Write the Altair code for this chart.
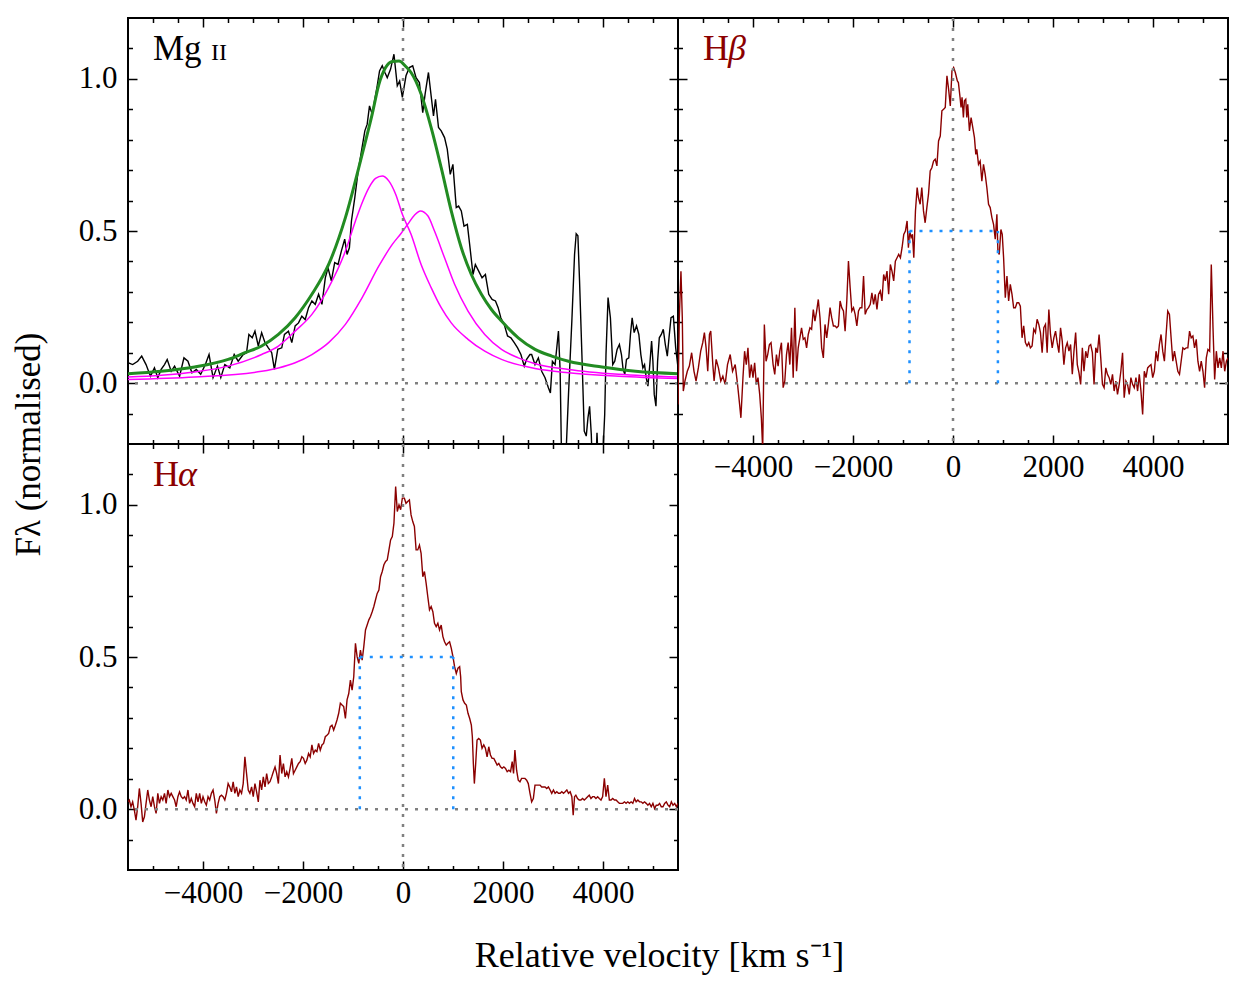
import altair as alt
import pandas as pd

FONT = "Liberation Serif"

# ---------------- Mg II (observed spectrum) ----------------
MG_V = [-5500, -5407, -5306, -5226, -5139, -5051, -4971, -4904, -4837, -4770,
        -4716, -4636, -4569, -4468, -4381, -4301, -4221, -4134, -4046, -3953,
        -3879, -3799, -3711, -3644, -3564, -3464, -3376, -3296, -3196, -3129,
        -3082, -3015, -2961, -2894, -2827, -2760, -2693, -2626, -2572, -2505,
        -2425, -2371, -2291, -2224, -2157, -2090, -2023, -1956, -1889, -1822,
        -1755, -1688, -1621, -1554, -1500, -1433, -1366, -1299, -1233, -1166,
        -1119, -1072, -1031, -964, -897, -830, -763, -716, -670, -616,
        -563, -516, -469, -415, -362, -315, -248, -181, -114, -67,
        -13,
        60, 127, 194, 261, 328, 395, 442, 509, 563, 610,
        650, 710, 764, 831, 885, 945, 998, 1065, 1112, 1166,
        1220, 1287, 1333, 1400, 1447, 1514, 1581, 1648, 1715, 1782,
        1849, 1903, 1956, 2024, 2091, 2158, 2225, 2292, 2358, 2425,
        2472, 2539,
        2573, 2640, 2707, 2774, 2841, 2908, 2948, 2988, 3042, 3109,
        3143, 3176, 3210, 3243, 3310, 3377, 3431, 3464, 3498, 3531,
        3578, 3625, 3665, 3699, 3732, 3766, 3792, 3840, 3880, 3913,
        3980, 4034, 4060, 4101, 4148, 4195, 4235, 4282, 4328, 4369,
        4402, 4436, 4469, 4516, 4549, 4583, 4623, 4670, 4717, 4757,
        4797, 4831, 4864, 4898, 4931, 4972, 4998, 5025, 5059, 5092,
        5126, 5166, 5206, 5246, 5286, 5320, 5360, 5407, 5454, 5501]
MG_F = [0.067, 0.061, 0.072, 0.089, 0.061, 0.023, 0.050, 0.018, 0.045, 0.061,
        0.078, 0.039, 0.056, 0.023, 0.083, 0.072, 0.034, 0.045, 0.029, 0.061,
        0.094, 0.018, 0.056, 0.018, 0.061, 0.050, 0.094, 0.072, 0.094, 0.100,
        0.160, 0.149, 0.171, 0.122, 0.166, 0.133, 0.116, 0.100, 0.045, 0.111,
        0.116, 0.160, 0.171, 0.133, 0.188, 0.198, 0.220, 0.209, 0.248, 0.270,
        0.259, 0.292, 0.259, 0.346, 0.379, 0.336, 0.396, 0.390, 0.434, 0.473,
        0.423, 0.445, 0.533, 0.610, 0.697, 0.763, 0.829, 0.851, 0.911, 0.884,
        0.933, 0.977, 1.026, 1.043, 1.021, 1.004, 1.032, 1.081, 0.977, 0.993,
        0.939,
        1.010, 1.037, 1.043, 1.004, 0.988, 0.889, 0.950, 1.021, 0.944, 0.878,
        0.933, 0.840, 0.829, 0.807, 0.769, 0.686, 0.719, 0.577, 0.582, 0.566,
        0.516, 0.522, 0.456, 0.357, 0.390, 0.368, 0.346, 0.357, 0.292, 0.275,
        0.270, 0.248, 0.215, 0.193, 0.155, 0.149, 0.133, 0.116, 0.094, 0.056,
        0.078, 0.094,
        0.094, 0.061, 0.083, 0.039, 0.018, -0.015, -0.032, 0.072, 0.061, 0.171,
        0.039, -0.30, -0.35, -0.30, -0.037, 0.204, 0.423, 0.491, 0.484, 0.336,
        0.094, -0.158, -0.174, -0.114, -0.076, -0.169, -0.30, -0.35, -0.163, -0.30,
        -0.30, -0.103, 0.094, 0.281, 0.215, 0.061, 0.072, 0.111, 0.127, 0.094,
        0.045, 0.029, 0.078, 0.083, 0.160, 0.215, 0.166, 0.188, 0.160, 0.094,
        0.050, 0.061, 0.018, -0.010, 0.050, 0.138, 0.072, -0.037, -0.076, 0.072,
        0.149, 0.160, 0.177, 0.127, 0.089, 0.149, 0.215, 0.220, 0.116, 0.050]

# Mg II total fit (green)
MG_FIT_V = [-5500, -4837, -4167, -3497, -3162, -2827, -2492, -2157, -1822, -1487,
            -1152, -817, -616, -482, -348, -214, -80, 60, 161, 362,
            563, 764, 965, 1166, 1367, 1568, 1769, 1970, 2305, 2640,
            2975, 3310, 3980, 4650, 5500]
MG_FIT_F = [0.031, 0.039, 0.053, 0.078, 0.100, 0.122, 0.160, 0.215, 0.292, 0.390,
            0.544, 0.752, 0.884, 0.982, 1.037, 1.057, 1.059, 1.040, 1.021, 0.950,
            0.840, 0.708, 0.566, 0.445, 0.357, 0.292, 0.242, 0.204, 0.149, 0.111,
            0.089, 0.072, 0.053, 0.039, 0.031]

# Mg II components (magenta)
MG_C1_V = [-5500, -4837, -4167, -3497, -2827, -2492, -2157, -1822, -1487, -1152,
           -951, -817, -683, -549, -415, -281, -147, -13, 161, 362,
           563, 764, 965, 1300, 1635, 1970, 2640, 3310, 4315, 5500]
MG_C1_F = [0.020, 0.026, 0.037, 0.056, 0.094, 0.122, 0.171, 0.226, 0.314, 0.434,
           0.533, 0.593, 0.642, 0.673, 0.681, 0.664, 0.621, 0.555, 0.489, 0.390,
           0.314, 0.248, 0.198, 0.144, 0.105, 0.078, 0.048, 0.034, 0.023, 0.015]
MG_C2_V = [-5500, -4167, -2827, -2492, -2157, -1822, -1487, -1152, -817, -482,
           -214, -40, 94, 228, 348, 496, 630, 831, 1032, 1300,
           1635, 1970, 2305, 2640, 3310, 4315, 5500]
MG_C2_F = [0.012, 0.020, 0.039, 0.050, 0.067, 0.094, 0.133, 0.193, 0.281, 0.385,
           0.456, 0.492, 0.522, 0.552, 0.566, 0.550, 0.500, 0.412, 0.325, 0.237,
           0.160, 0.111, 0.083, 0.064, 0.045, 0.029, 0.020]

# ---------------- H beta ----------------
HB_V = [-5500, -5474, -5441, -5414, -5394, -5361, -5314, -5273, -5227, -5180,
        -5139, -5093, -5046, -5005, -4972, -4938, -4905, -4871, -4845, -4804,
        -4778, -4737, -4691, -4644, -4603, -4557, -4510, -4456, -4409, -4356,
        -4309, -4268, -4242, -4201, -4168, -4134, -4101, -4067, -4034, -4000,
        -3967, -3933, -3900, -3866, -3833, -3806, -3773, -3739, -3706, -3672,
        -3639, -3598, -3565, -3531, -3498, -3464, -3431, -3397, -3364, -3330,
        -3297, -3263, -3230, -3196, -3163, -3129, -3096, -3062, -3029, -2995,
        -2962, -2928, -2895, -2861, -2828, -2794, -2761, -2727, -2694, -2660,
        -2627, -2593, -2560, -2526, -2493, -2459, -2426, -2392, -2359, -2325,
        -2292, -2258, -2225, -2191, -2158, -2124, -2091, -2057, -2024, -1990,
        -1957, -1923, -1890, -1856, -1823, -1789, -1756, -1722, -1689, -1655,
        -1622, -1588, -1555, -1521, -1488, -1454, -1421, -1387, -1354, -1320,
        -1287, -1253, -1220, -1186, -1153, -1119, -1086, -1052, -1019, -985,
        -952, -918, -892, -865, -838, -811, -784, -751, -717, -691,
        -657, -624, -590, -557, -523, -490, -456, -423, -389, -356,
        -322, -289, -255, -222, -188, -155, -121, -88, -54, -21,
        13, 46, 87,
        108, 141, 161, 181, 208, 228, 255, 275, 295, 329,
        362, 396, 429, 456, 476, 510, 543, 577, 610, 644,
        677, 711, 744, 778, 811, 845, 878, 898, 925, 958,
        985, 1012, 1046, 1079, 1113, 1146, 1180, 1213, 1247, 1280,
        1314, 1347, 1381, 1414, 1448, 1481, 1515, 1548, 1582, 1615,
        1649, 1682, 1716, 1749, 1783, 1816, 1850, 1883, 1917, 1950,
        1984, 2017, 2051, 2084, 2118, 2151, 2185, 2218, 2252, 2285,
        2319, 2352, 2386, 2419, 2453, 2486, 2520, 2553, 2587, 2620,
        2654, 2687, 2721, 2754, 2788, 2821, 2855, 2888, 2922, 2955,
        2989, 3022, 3056, 3089, 3123, 3156, 3190, 3223, 3257, 3290,
        3324, 3357, 3391, 3424, 3458, 3491, 3525, 3558, 3592, 3625,
        3659, 3692, 3726, 3759, 3793, 3826, 3860, 3893, 3927, 3960,
        3994, 4027, 4061, 4094, 4128, 4161, 4195, 4228, 4262, 4295,
        4329, 4362, 4396, 4429, 4463, 4496, 4530, 4563, 4597, 4630,
        4664, 4697, 4731, 4764, 4798, 4831, 4865, 4898, 4932, 4965,
        4999, 5032, 5066, 5099, 5133, 5166, 5200, 5233, 5267, 5300,
        5334, 5367, 5401, 5434, 5468, 5500]
HB_F = [-0.070, 0.215, 0.368, 0.215, -0.026, 0.007, 0.039, 0.056, 0.100, 0.039,
        0.007, 0.050, 0.105, 0.133, 0.166, 0.116, 0.039, 0.160, 0.171, 0.061,
        0.007, 0.078, 0.050, 0.007, 0.023, -0.004, 0.061, 0.094, 0.039, 0.061,
        -0.004, -0.070, -0.114, 0.018, 0.105, 0.061, 0.116, 0.018, 0.061, 0.018,
        0.067, -0.004, 0.018, -0.037, -0.114, -0.220, 0.193, 0.072, 0.094, 0.127,
        0.133, 0.061, 0.029, 0.094, 0.056, 0.105, 0.133, -0.015, 0.007, 0.094,
        0.133, 0.061, 0.182, 0.018, 0.248, 0.039, 0.116, 0.149, 0.182, 0.144,
        0.149, 0.116, 0.160, 0.182, 0.177, 0.242, 0.204, 0.237, 0.275, 0.215,
        0.116, 0.083, 0.193, 0.149, 0.193, 0.248, 0.215, 0.188, 0.188, 0.182,
        0.188, 0.270, 0.248, 0.237, 0.171, 0.270, 0.401, 0.314, 0.237, 0.248,
        0.226, 0.188, 0.237, 0.248, 0.248, 0.352, 0.226, 0.242, 0.248, 0.259,
        0.297, 0.259, 0.292, 0.242, 0.292, 0.303, 0.270, 0.357, 0.336, 0.368,
        0.292, 0.390, 0.368, 0.336, 0.401, 0.412, 0.423, 0.412, 0.445, 0.489,
        0.500, 0.533, 0.445, 0.500, 0.478, 0.489, 0.412, 0.566, 0.643, 0.610,
        0.588, 0.643, 0.566, 0.527, 0.577, 0.621, 0.697, 0.708, 0.730, 0.736,
        0.714, 0.796, 0.812, 0.895, 0.900, 0.906, 1.010, 0.966, 0.911, 1.026,
        1.037, 1.021, 0.993,
        0.988, 0.939, 0.906, 0.939, 0.873, 0.928, 0.933, 0.873, 0.916, 0.829,
        0.873, 0.840, 0.807, 0.752, 0.768, 0.719, 0.730, 0.664, 0.719, 0.686,
        0.643, 0.588, 0.577, 0.544, 0.522, 0.473, 0.555, 0.434, 0.423, 0.505,
        0.489, 0.412, 0.281, 0.352, 0.270, 0.325, 0.292, 0.248, 0.248, 0.264,
        0.264, 0.253, 0.149, 0.188, 0.133, 0.122, 0.133, 0.116, 0.122, 0.177,
        0.166, 0.210, 0.193, 0.166, 0.100, 0.182, 0.193, 0.100, 0.242, 0.160,
        0.116, 0.149, 0.171, 0.133, 0.100, 0.182, 0.138, 0.061, 0.116, 0.133,
        0.105, 0.127, 0.029, 0.105, 0.166, 0.061, 0.034, -0.004, 0.116, 0.039,
        0.105, 0.083, 0.122, 0.127, 0.100, -0.004, 0.116, 0.100, 0.160, 0.083,
        -0.004, -0.015, 0.050, 0.029, 0.018, -0.004, 0.029, -0.026, 0.007, -0.037,
        -0.004, 0.039, 0.100, -0.048, 0.007, -0.004, -0.037, 0.018, -0.004, -0.015,
        0.018, -0.026, 0.029, -0.026, -0.103, 0.039, 0.018, 0.050, 0.056, 0.061,
        0.018, 0.039, 0.105, 0.072, 0.127, 0.160, 0.105, 0.072, 0.160, 0.237,
        0.226, 0.149, 0.072, 0.105, 0.072, 0.039, 0.029, 0.072, 0.116, 0.111,
        0.116, 0.116, 0.171, 0.149, 0.155, 0.116, 0.144, 0.072, 0.039, 0.072,
        0.039, -0.015, 0.083, 0.111, 0.105, 0.390, 0.182, 0.012, 0.105, 0.050,
        0.083, 0.050, 0.105, 0.039, 0.072, 0.083]

# ---------------- H alpha ----------------
HA_V = [-5500, -5474, -5440, -5407, -5373, -5340, -5306, -5273, -5239, -5206,
        -5172, -5139, -5105, -5072, -5038, -5005, -4971, -4938, -4904, -4871,
        -4837, -4804, -4770, -4737, -4703, -4670, -4636, -4603, -4569, -4536,
        -4502, -4469, -4435, -4402, -4368, -4335, -4301, -4268, -4234, -4201,
        -4167, -4134, -4100, -4067, -4033, -4000, -3966, -3933, -3899, -3866,
        -3832, -3799, -3765, -3732, -3698, -3665, -3631, -3598, -3564, -3531,
        -3497, -3464, -3430, -3397, -3363, -3330, -3296, -3263, -3229, -3196,
        -3162, -3129, -3095, -3062, -3028, -2995, -2961, -2928, -2894, -2861,
        -2827, -2794, -2760, -2727, -2693, -2660, -2626, -2593, -2559, -2526,
        -2492, -2459, -2425, -2392, -2358, -2325, -2291, -2258, -2224, -2191,
        -2157, -2124, -2090, -2057, -2023, -1990, -1956, -1923, -1889, -1856,
        -1822, -1789, -1755, -1722, -1688, -1655, -1621, -1588, -1554, -1521,
        -1487, -1454, -1420, -1387, -1353, -1320, -1286, -1253, -1219, -1186,
        -1152, -1119, -1085, -1052, -1018, -985, -951, -918, -884, -851,
        -817, -784, -750, -717, -683, -650, -616, -583, -549, -516,
        -482, -449, -415, -382, -348, -315, -281, -248, -214, -181,
        -147, -114, -80, -47, -13,
        27, 60, 94, 128, 161, 195, 228, 262, 295, 329,
        362, 396, 429, 463, 496, 530, 563, 597, 630, 664,
        697, 731, 764, 798, 831, 865, 898, 932, 965, 999,
        1032, 1066, 1099, 1133, 1153, 1166, 1200, 1233, 1267, 1300,
        1334, 1367, 1387, 1407, 1427, 1454, 1481, 1514, 1548, 1581,
        1615, 1648, 1682, 1715, 1749, 1782, 1816, 1849, 1883, 1916,
        1950, 1983, 2017, 2050, 2084, 2117, 2151, 2184, 2211, 2238,
        2272, 2305, 2339, 2372, 2406, 2439, 2473, 2506, 2540, 2573,
        2607, 2640, 2674, 2707, 2741, 2774, 2808, 2841, 2875, 2908,
        2942, 2975, 3009, 3042, 3076, 3109, 3143, 3176, 3210, 3243,
        3277, 3310, 3344, 3377, 3404, 3431, 3457, 3491, 3524, 3558,
        3591, 3625, 3658, 3692, 3725, 3759, 3792, 3826, 3859, 3893,
        3926, 3960, 3993, 4027, 4060, 4094, 4127, 4161, 4194, 4228,
        4261, 4295, 4328, 4362, 4395, 4429, 4462, 4496, 4529, 4563,
        4596, 4630, 4663, 4697, 4730, 4764, 4797, 4831, 4864, 4898,
        4931, 4965, 4998, 5032, 5065, 5099, 5132, 5166, 5199, 5233,
        5266, 5300, 5333, 5367, 5400, 5434, 5467, 5500]
HA_F = [0.024, 0.030, 0.008, 0.024, -0.003, -0.036, 0.008, 0.068, 0.019, -0.042,
        -0.025, 0.019, 0.063, 0.030, 0.008, 0.041, 0.008, -0.014, 0.052, 0.019,
        0.041, 0.030, 0.052, 0.019, 0.063, 0.041, 0.052, 0.041, 0.030, 0.008,
        0.041, 0.057, 0.041, 0.035, 0.041, 0.030, 0.063, 0.019, 0.035, 0.019,
        0.008, 0.052, 0.024, 0.052, 0.019, 0.041, 0.024, 0.013, 0.041, 0.030,
        0.052, 0.063, 0.030, -0.014, 0.019, 0.041, 0.046, 0.041, 0.030, 0.052,
        0.084, 0.073, 0.057, 0.090, 0.052, 0.073, 0.041, 0.063, 0.052, 0.084,
        0.172, 0.117, 0.063, 0.052, 0.073, 0.041, 0.084, 0.057, 0.024, 0.095,
        0.063, 0.106, 0.073, 0.117, 0.084, 0.090, 0.106, 0.123, 0.139, 0.117,
        0.084, 0.178, 0.117, 0.150, 0.106, 0.123, 0.106, 0.134, 0.167, 0.117,
        0.128, 0.139, 0.150, 0.156, 0.172, 0.167, 0.150, 0.161, 0.183, 0.172,
        0.211, 0.183, 0.194, 0.189, 0.216, 0.194, 0.211, 0.216, 0.238, 0.243,
        0.249, 0.271, 0.276, 0.260, 0.276, 0.293, 0.315, 0.348, 0.342, 0.337,
        0.298, 0.359, 0.380, 0.424, 0.391, 0.435, 0.545, 0.501, 0.479, 0.523,
        0.490, 0.534, 0.589, 0.605, 0.622, 0.633, 0.649, 0.666, 0.688, 0.709,
        0.720, 0.764, 0.781, 0.803, 0.814, 0.819, 0.852, 0.885, 0.896, 0.940,
        1.060, 0.978, 1.000, 0.984, 1.022,
        1.022, 1.005, 1.011, 1.016, 0.967, 0.945, 0.929, 0.852, 0.852, 0.868,
        0.841, 0.764, 0.781, 0.742, 0.698, 0.655, 0.666, 0.649, 0.611, 0.600,
        0.611, 0.589, 0.605, 0.567, 0.550, 0.539, 0.545, 0.550, 0.529, 0.501,
        0.468, 0.446, 0.463, 0.468, 0.435, 0.386, 0.359, 0.348, 0.342, 0.315,
        0.298, 0.276, 0.238, 0.150, 0.084, 0.150, 0.227, 0.232, 0.227, 0.200,
        0.211, 0.200, 0.172, 0.205, 0.178, 0.167, 0.167, 0.156, 0.145, 0.150,
        0.139, 0.134, 0.139, 0.134, 0.123, 0.128, 0.123, 0.156, 0.117, 0.194,
        0.128, 0.095, 0.090, 0.101, 0.101, 0.101, 0.095, 0.084, 0.052, 0.024,
        0.035, 0.079, 0.079, 0.079, 0.079, 0.073, 0.073, 0.073, 0.068, 0.073,
        0.063, 0.052, 0.063, 0.052, 0.057, 0.052, 0.052, 0.057, 0.052, 0.057,
        0.063, 0.052, 0.057, 0.041, -0.020, 0.041, 0.046, 0.035, 0.030, 0.030,
        0.035, 0.030, 0.035, 0.041, 0.046, 0.035, 0.041, 0.041, 0.035, 0.041,
        0.035, 0.030, 0.041, 0.101, 0.041, 0.079, 0.030, 0.030, 0.035, 0.030,
        0.030, 0.024, 0.019, 0.019, 0.019, 0.024, 0.019, 0.024, 0.019, 0.024,
        0.019, 0.035, 0.024, 0.030, 0.024, 0.024, 0.019, 0.024, 0.019, 0.013,
        0.019, 0.008, 0.019, 0.002, 0.013, 0.013, 0.019, 0.008, 0.008, 0.019,
        0.024, 0.013, 0.008, 0.024, 0.013, 0.019, 0.008, 0.019]

# FWHM markers (blue dotted): [blue edge, red edge] at half maximum
HB_FWHM = [-870, 898]
HA_FWHM = [-864, 1005]
HALF_MAX = 0.5

# axis ticks
X_MAJOR = [-4000, -2000, 0, 2000, 4000]
X_MINOR = [-5000, -4500, -3500, -3000, -2500, -1500, -1000, -500,
           500, 1000, 1500, 2500, 3000, 3500, 4500, 5000]
Y_MAJOR = [0.0, 0.5, 1.0]
Y_MINOR = [-0.1, 0.1, 0.2, 0.3, 0.4, 0.6, 0.7, 0.8, 0.9, 1.1]

X_DOMAIN = [-5500, 5500]
Y_DOMAIN = [-0.2, 1.2]

W, H = 550, 426
XS = alt.Scale(domain=X_DOMAIN, nice=False, zero=False)
YS = alt.Scale(domain=Y_DOMAIN, nice=False, zero=False)

DARKRED = "#8b0000"
GREEN = "#228b22"
MAGENTA = "#ff00ff"
BLUE = "#1e90ff"
GREY = "#808080"


def spec_line(v, f, color, width, interp="linear"):
    df = pd.DataFrame({"v": v, "f": f})
    return alt.Chart(df).mark_line(color=color, strokeWidth=width, clip=True,
                                   interpolate=interp).encode(
        x=alt.X("v:Q", scale=XS, axis=None),
        y=alt.Y("f:Q", scale=YS, axis=None))


def zero_lines():
    h = alt.Chart(pd.DataFrame({"z": [0.0]})).mark_rule(
        color=GREY, strokeWidth=2.5, strokeDash=[3, 7]).encode(
        y=alt.Y("z:Q", scale=YS, axis=None))
    v = alt.Chart(pd.DataFrame({"z": [0.0]})).mark_rule(
        color=GREY, strokeWidth=2.5, strokeDash=[3, 7]).encode(
        x=alt.X("z:Q", scale=XS, axis=None))
    return [h, v]


def fwhm_lines(edges):
    vert = pd.DataFrame({"v": edges, "y0": [0.0, 0.0], "y1": [HALF_MAX, HALF_MAX]})
    horiz = pd.DataFrame({"v": [edges[0]], "v2": [edges[1]], "y": [HALF_MAX]})
    a = alt.Chart(vert).mark_rule(color=BLUE, strokeWidth=2.5, strokeDash=[3, 7]).encode(
        x=alt.X("v:Q", scale=XS, axis=None),
        y=alt.Y("y0:Q", scale=YS, axis=None), y2="y1:Q")
    b = alt.Chart(horiz).mark_rule(color=BLUE, strokeWidth=2.5, strokeDash=[3, 7]).encode(
        x=alt.X("v:Q", scale=XS, axis=None), x2="v2:Q",
        y=alt.Y("y:Q", scale=YS, axis=None))
    return [a, b]


def label(txt, x, size, color, italic=False):
    return alt.Chart(pd.DataFrame({"t": [txt]})).mark_text(
        align="left", baseline="alphabetic", font=FONT, fontSize=size,
        color=color, fontStyle="italic" if italic else "normal").encode(
        text="t:N", x=alt.value(x), y=alt.value(42))


def axis_layers(xlabels, ylabels, xtitle=None, ytitle=None):
    frame = pd.DataFrame({"v": X_DOMAIN, "f": Y_DOMAIN})
    out = []
    setups = [("bottom", "left", X_MAJOR, Y_MAJOR, 9, xlabels, ylabels, True),
              ("bottom", "left", X_MINOR, Y_MINOR, 4.5, False, False, False),
              ("top", "right", X_MAJOR, Y_MAJOR, 9, False, False, False),
              ("top", "right", X_MINOR, Y_MINOR, 4.5, False, False, False)]
    for xo, yo, xv, yv, L, xl, yl, first in setups:
        common = dict(domain=False, grid=False, tickColor="black", tickWidth=1.5,
                      tickSize=L, offset=-L, labelFont=FONT, labelFontSize=31,
                      labelColor="black", labelFlush=False, labelOverlap=False)
        xa = dict(common, orient=xo, values=xv, labels=xl, format="d",
                  labelPadding=8)
        ya = dict(common, orient=yo, values=yv, labels=yl, format=".1f",
                  labelPadding=11)
        if first and xtitle:
            xa.update(title=xtitle, titleFont=FONT, titleFontSize=36,
                      titleFontWeight="normal", titleColor="black",
                      titleX=531, titlePadding=30)
        else:
            xa.update(title=None)
        if first and ytitle:
            ya.update(title=ytitle, titleFont=FONT, titleFontSize=35,
                      titleFontWeight="normal", titleColor="black",
                      titleY=H, titlePadding=32)
        else:
            ya.update(title=None)
        out.append(alt.Chart(frame).mark_point(opacity=0).encode(
            x=alt.X("v:Q", scale=XS, axis=alt.Axis(**xa)),
            y=alt.Y("f:Q", scale=YS, axis=alt.Axis(**ya))))
    return out


def panel(layers):
    return alt.layer(*layers).resolve_axis(x="independent", y="independent").properties(
        width=W, height=H)


mg_panel = panel(
    [spec_line(MG_V, MG_F, "black", 1.4),
     spec_line(MG_C1_V, MG_C1_F, MAGENTA, 1.5, "monotone"),
     spec_line(MG_C2_V, MG_C2_F, MAGENTA, 1.5, "monotone"),
     spec_line(MG_FIT_V, MG_FIT_F, GREEN, 3, "monotone")]
    + zero_lines()
    + [label("Mg", 25, 35, "black"), label("II", 83, 24, "black")]
    + axis_layers(False, True, ytitle="Fλ (normalised)"))

hb_panel = panel(
    [spec_line(HB_V, HB_F, DARKRED, 1.4)]
    + zero_lines() + fwhm_lines(HB_FWHM)
    + [label("H", 25, 36, DARKRED), label("β", 50, 36, DARKRED, italic=True)]
    + axis_layers(True, False))

ha_panel = panel(
    [spec_line(HA_V, HA_F, DARKRED, 1.4)]
    + zero_lines() + fwhm_lines(HA_FWHM)
    + [label("H", 25, 36, DARKRED), label("α", 50, 36, DARKRED, italic=True)]
    + axis_layers(True, True, xtitle="Relative velocity [km s⁻¹]"))

chart = alt.concat(mg_panel, hb_panel, ha_panel, columns=2, spacing=0,
                   bounds="flush").configure_view(
    stroke="black", strokeWidth=2).properties(
    padding={"left": 2, "top": 6, "right": 5, "bottom": 5})

chart.save("out.html", embed_options={"renderer": "svg", "actions": False})
